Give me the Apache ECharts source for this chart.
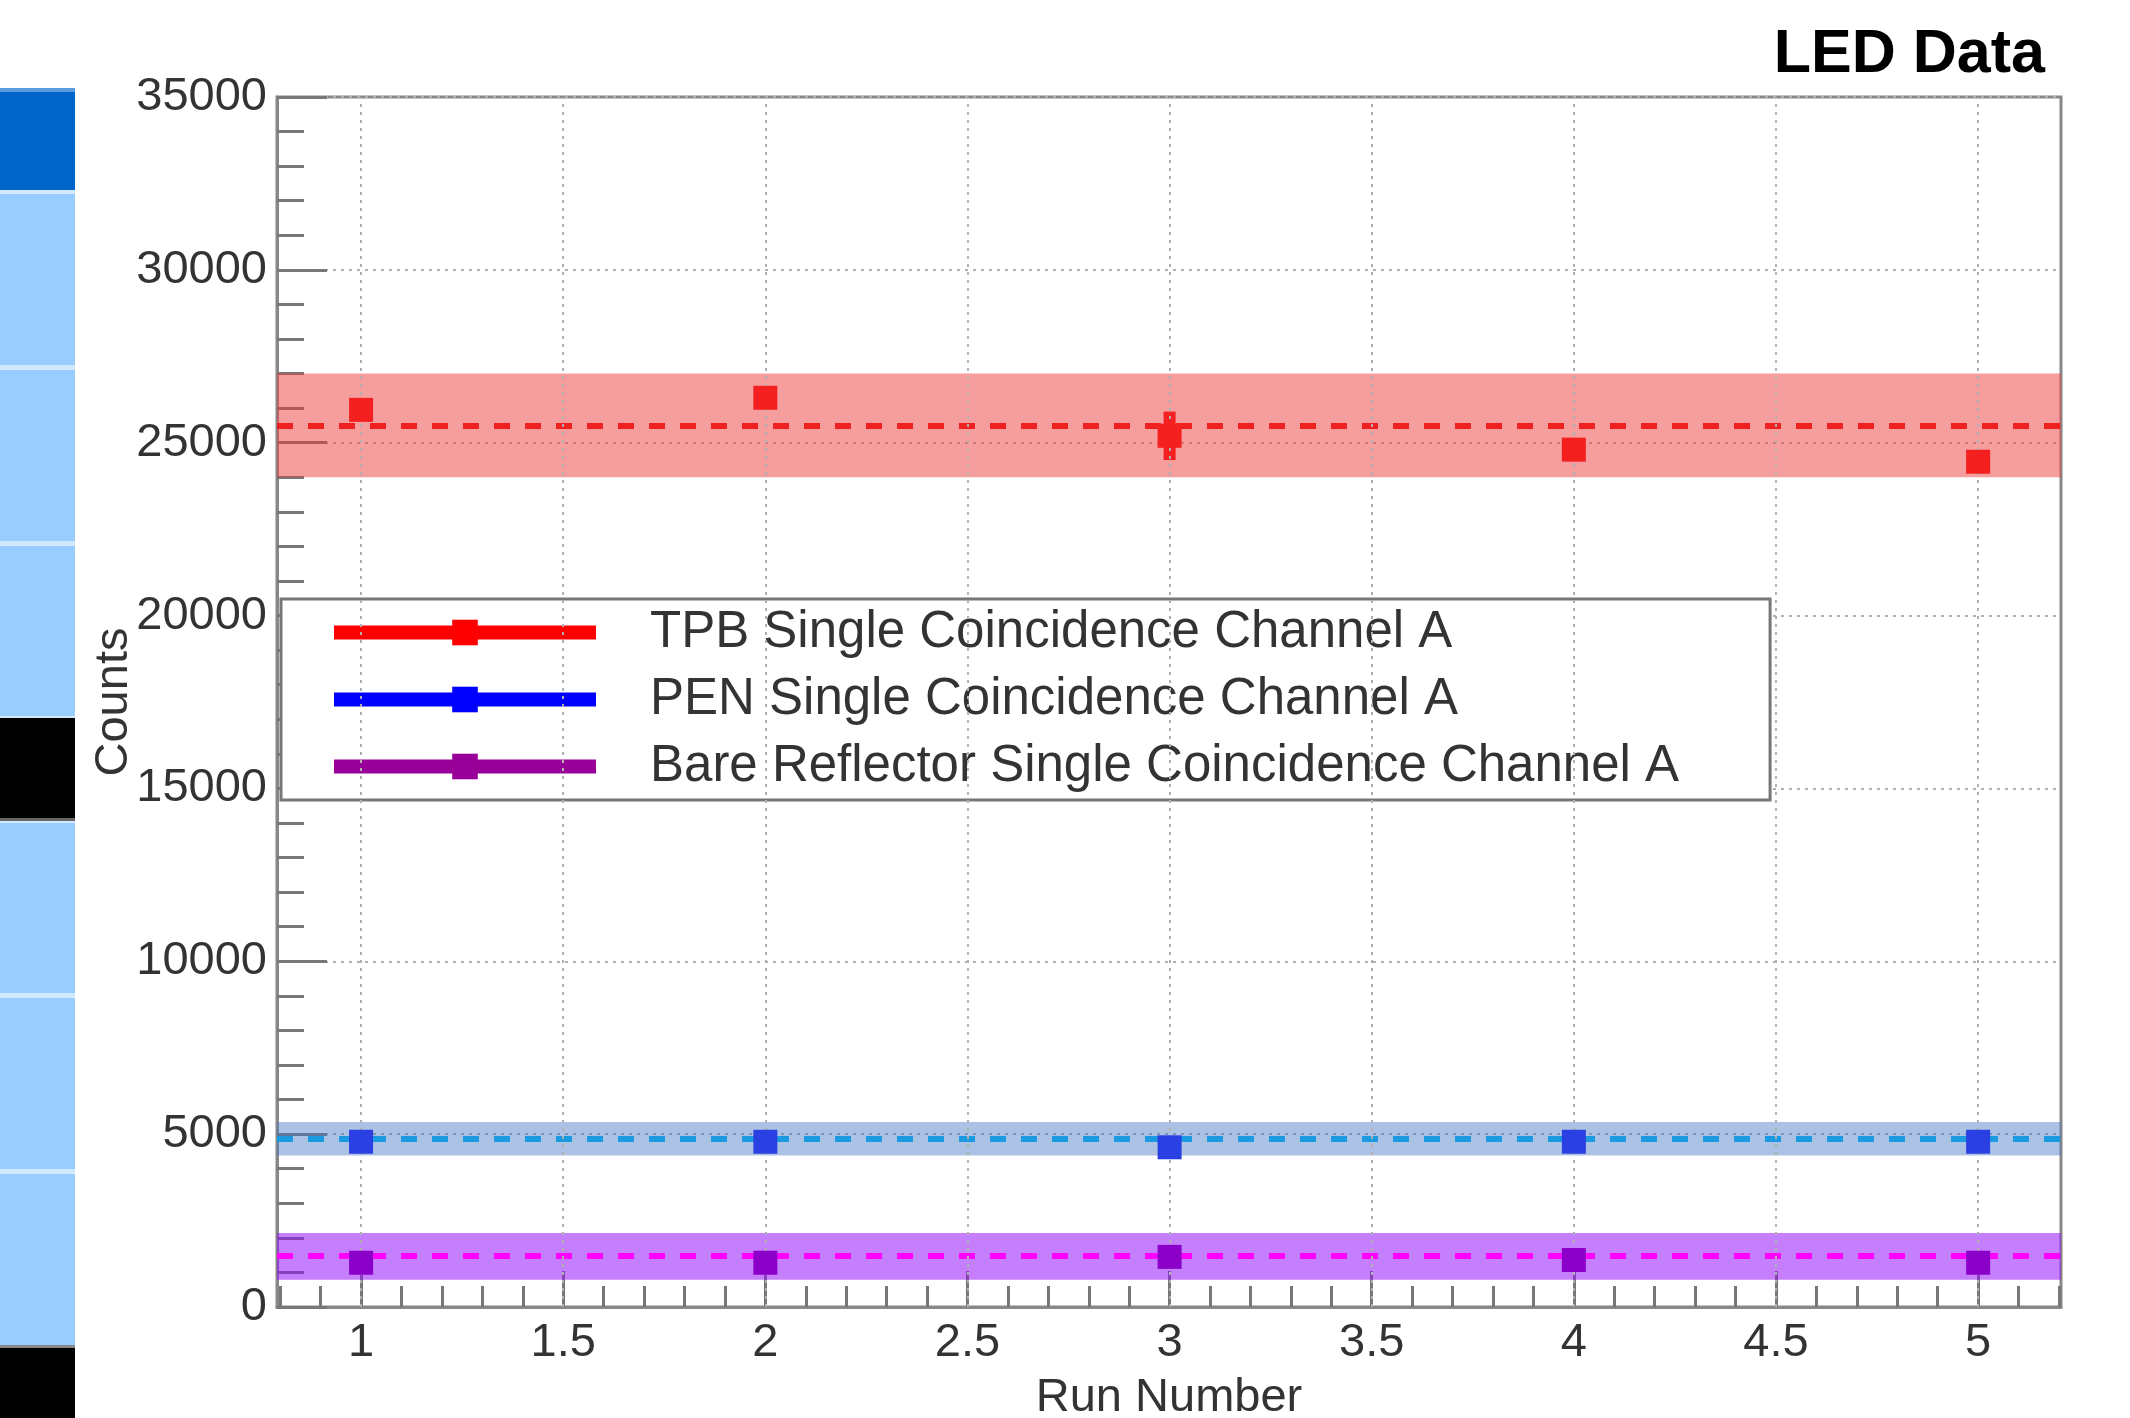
<!DOCTYPE html>
<html>
<head>
<meta charset="utf-8">
<script src="https://cdn.jsdelivr.net/npm/echarts@6/dist/echarts.min.js"></script>
<style>html,body{margin:0;padding:0;background:#fff}#c{width:2130px;height:1418px}</style>
</head>
<body>
<div id="c"></div>
<script>
// ---- data ----
const runs = [1, 2, 3, 4, 5];
const tpbCounts = [25950, 26300, 25200, 24800, 24450];
const tpbErr = [300, 300, 700, 300, 300];
const penCounts = [4780, 4780, 4620, 4780, 4780];
const penErr = [250, 250, 250, 250, 250];
const bareCounts = [1280, 1280, 1450, 1360, 1280];
const bareErr = [250, 250, 250, 250, 250];
const tpbMean = 25500, tpbBand = [24000, 27000];
const penMean = 4870, penBand = [4380, 5350];
const bareMean = 1480, bareBand = [790, 2140];
const seriesNames = [
  'TPB Single Coincidence Channel A',
  'PEN Single Coincidence Channel A',
  'Bare Reflector Single Coincidence Channel A'
];
const xMajorTicks = [1, 1.5, 2, 2.5, 3, 3.5, 4, 4.5, 5];
const xMinorTicks = [0.8, 0.9, 1.0, 1.1, 1.2, 1.3, 1.4, 1.5, 1.6, 1.7, 1.8, 1.9, 2.0, 2.1, 2.2, 2.3, 2.4, 2.5, 2.6, 2.7, 2.8, 2.9, 3.0, 3.1, 3.2, 3.3, 3.4, 3.5, 3.6, 3.7, 3.8, 3.9, 4.0, 4.1, 4.2, 4.3, 4.4, 4.5, 4.6, 4.7, 4.8, 4.9, 5.0, 5.1, 5.2];
const xRange = [0.792, 5.205];
const yRange = [0, 35000];
const yStep = 5000;

// ---- styles ----
const FONT = '"Liberation Sans", Arial, Helvetica, sans-serif';
const TXT = '#333';
const AX = '#888';
const markerColors = ['#f42020', '#2b40e2', '#8a00c8'];
const legendLineColors = ['#ff0000', '#0000ff', '#990099'];
const meanColors = ['#ee2020', '#1a9ae0', '#ff00ff'];
const bandColors = ['rgba(237,60,60,0.5)', 'rgba(70,120,195,0.45)', 'rgba(150,20,250,0.55)'];

const chart = echarts.init(document.getElementById('c'), null, {renderer: 'canvas'});

function pts(vals) { return runs.map((r, i) => [r, vals[i]]); }
function errData(vals, errs) { return runs.map((r, i) => [r, vals[i], errs[i]]); }
function errSeries(vals, errs, color) {
  return {
    type: 'custom', z: 4, silent: true,
    itemStyle: {color: color, opacity: 1, borderWidth: 0},
    data: errData(vals, errs),
    renderItem: function (params, api) {
      const x = api.value(0), y = api.value(1), e = api.value(2);
      const a = api.coord([x, y + e]), b = api.coord([x, y - e]);
      return {type: 'rect', shape: {x: a[0] - 6, y: a[1], width: 12, height: b[1] - a[1]},
              style: {fill: color, lineWidth: 0, opacity: 1}};
    }
  };
}
function pointSeries(name, vals, idx) {
  return {
    name: name, type: 'line', z: 5,
    data: pts(vals),
    symbol: 'rect', symbolSize: 24,
    itemStyle: {color: markerColors[idx]},
    lineStyle: {color: legendLineColors[idx], opacity: 0, width: 0}
  };
}

const bandSeries = {
  type: 'line', z: 1, silent: true,
  data: pts(tpbCounts), symbol: 'none', lineStyle: {opacity: 0},
  markArea: {
    silent: true, label: {show: false},
    data: [
      [{yAxis: tpbBand[0], itemStyle: {color: bandColors[0]}}, {yAxis: tpbBand[1]}],
      [{yAxis: penBand[0], itemStyle: {color: bandColors[1]}}, {yAxis: penBand[1]}],
      [{yAxis: bareBand[0], itemStyle: {color: bandColors[2]}}, {yAxis: bareBand[1]}]
    ]
  },
  markLine: {
    silent: true, symbol: 'none', label: {show: false}, animation: false,
    data: [
      {yAxis: tpbMean, lineStyle: {color: meanColors[0], width: 6, type: [16, 15]}},
      {yAxis: penMean, lineStyle: {color: meanColors[1], width: 6, type: [16, 15]}},
      {yAxis: bareMean, lineStyle: {color: meanColors[2], width: 6, type: [16, 15]}}
    ]
  }
};
const vGridSeries = {
  type: 'line', z: 3, silent: true,
  data: pts(tpbCounts), symbol: 'none', lineStyle: {opacity: 0},
  markLine: {
    silent: true, symbol: 'none', label: {show: false}, animation: false,
    lineStyle: {color: '#b0b0b0', width: 2, type: [3, 5]},
    data: xMajorTicks.map(v => ({xAxis: v}))
  }
};

// decorative strip at the left edge
const strip = [
  {type: 'rect', shape: {x: 0, y: 88, width: 75, height: 4}, style: {fill: '#5b9be0'}},
  {type: 'rect', shape: {x: 0, y: 92, width: 75, height: 98}, style: {fill: '#0066cc'}},
  {type: 'rect', shape: {x: 0, y: 190, width: 75, height: 1158}, style: {fill: '#d2e8ff'}},
  {type: 'rect', shape: {x: 0, y: 194, width: 75, height: 171}, style: {fill: '#99ccff'}},
  {type: 'rect', shape: {x: 0, y: 370, width: 75, height: 171}, style: {fill: '#99ccff'}},
  {type: 'rect', shape: {x: 0, y: 546, width: 75, height: 170}, style: {fill: '#99ccff'}},
  {type: 'rect', shape: {x: 0, y: 718, width: 75, height: 100}, style: {fill: '#000'}},
  {type: 'rect', shape: {x: 0, y: 818, width: 75, height: 3}, style: {fill: '#666'}},
  {type: 'rect', shape: {x: 0, y: 823, width: 75, height: 170}, style: {fill: '#99ccff'}},
  {type: 'rect', shape: {x: 0, y: 998, width: 75, height: 171}, style: {fill: '#99ccff'}},
  {type: 'rect', shape: {x: 0, y: 1174, width: 75, height: 171}, style: {fill: '#99ccff'}},
  {type: 'rect', shape: {x: 0, y: 1345, width: 75, height: 3}, style: {fill: '#888'}},
  {type: 'rect', shape: {x: 0, y: 1348, width: 75, height: 70}, style: {fill: '#000'}}
];

const option = {
  animation: false,
  backgroundColor: '#fff',
  title: {
    text: 'LED Data', right: 80, top: 20,
    textStyle: {fontFamily: FONT, fontSize: 61, fontWeight: 'bold', color: '#000'}
  },
  graphic: strip,
  grid: {left: 277, top: 97, width: 1784, height: 1210, show: true,
         outerBoundsMode: 'none', containLabel: false,
         borderColor: AX, borderWidth: 3, backgroundColor: 'transparent'},
  legend: {
    orient: 'vertical', left: 281, top: 599,
    data: seriesNames.map((n, i) => ({name: n,
      itemStyle: {color: legendLineColors[i]},
      lineStyle: {color: legendLineColors[i], width: 14, opacity: 1}})),
    itemWidth: 262, itemHeight: 32, itemGap: 16,
    padding: [8, 91, 8, 46],
    backgroundColor: '#fff', borderColor: '#777', borderWidth: 3, borderRadius: 0,
    lineStyle: {width: 14, opacity: 1},
    textStyle: {fontFamily: FONT, fontSize: 51, color: TXT, padding: [0, 0, 0, 49]},
    selectedMode: false
  },
  xAxis: [{
    type: 'value', min: xRange[0], max: xRange[1],
    name: 'Run Number', nameLocation: 'middle', nameGap: 68,
    nameTextStyle: {fontFamily: FONT, fontSize: 47, color: TXT},
    axisLine: {show: true, lineStyle: {color: AX, width: 3}},
    axisTick: {show: true, inside: true, length: 21, customValues: xMinorTicks,
               lineStyle: {color: '#777', width: 3}},
    axisLabel: {show: true, customValues: xMajorTicks, margin: 13,
                fontFamily: FONT, fontSize: 47, color: TXT},
    splitLine: {show: false}
  }, {
    type: 'value', min: xRange[0], max: xRange[1], position: 'bottom',
    axisLine: {show: false},
    axisTick: {show: true, inside: true, length: 36, customValues: xMajorTicks,
               lineStyle: {color: '#777', width: 3}},
    axisLabel: {show: false},
    splitLine: {show: false}
  }],
  yAxis: {
    type: 'value', min: yRange[0], max: yRange[1], interval: yStep,
    name: 'Counts', nameLocation: 'middle', nameGap: 139, nameMoveOverlap: false,
    nameTextStyle: {fontFamily: FONT, fontSize: 47, color: TXT},
    axisLine: {show: true, lineStyle: {color: AX, width: 3}},
    axisTick: {show: true, inside: true, length: 50, lineStyle: {color: '#777', width: 3}},
    minorTick: {show: true, splitNumber: 5, length: 27, lineStyle: {color: '#777', width: 3}},
    axisLabel: {margin: 10, fontFamily: FONT, fontSize: 47, color: TXT,
                formatter: function (v) { return String(v); }},
    splitLine: {show: true, lineStyle: {color: '#b0b0b0', width: 2, type: [3, 5]}}
  },
  series: [
    bandSeries,
    vGridSeries,
    errSeries(tpbCounts, tpbErr, markerColors[0]),
    errSeries(penCounts, penErr, markerColors[1]),
    errSeries(bareCounts, bareErr, markerColors[2]),
    pointSeries(seriesNames[0], tpbCounts, 0),
    pointSeries(seriesNames[1], penCounts, 1),
    pointSeries(seriesNames[2], bareCounts, 2)
  ]
};
chart.setOption(option);
</script>
</body>
</html>
